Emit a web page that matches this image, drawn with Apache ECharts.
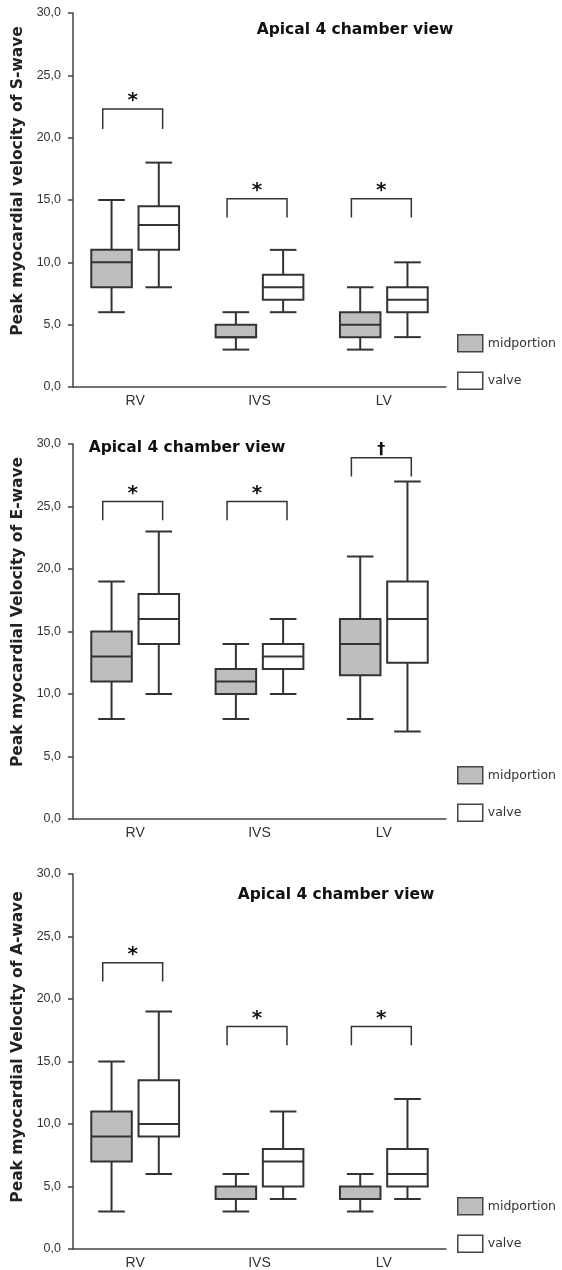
<!DOCTYPE html>
<html>
<head>
<meta charset="utf-8">
<script src="https://cdn.jsdelivr.net/npm/echarts@6/dist/echarts.min.js"></script>
<style>
  html, body { margin: 0; padding: 0; background: #fff; }
  #chart { width: 562px; height: 1270px; }
</style>
</head>
<body>
<div id="chart"></div>
<script>
// categories on the x axis
const categories = ['RV', 'IVS', 'LV'];
const seriesNames = ['midportion', 'valve'];
const panelTitle = 'Apical 4 chamber view';
const yNames = [
  'Peak myocardial velocity of S-wave',
  'Peak myocardial Velocity of E-wave',
  'Peak myocardial Velocity of A-wave'
];

// box values per category: [min, Q1, median, Q3, max]
const sMid   = [[6, 8, 10, 11, 15], [3, 4, 4, 5, 6], [3, 4, 5, 6, 8]];
const sValve = [[8, 11, 13, 14.5, 18], [6, 7, 8, 9, 11], [4, 6, 7, 8, 10]];
const eMid   = [[8, 11, 13, 15, 19], [8, 10, 11, 12, 14], [8, 11.5, 14, 16, 21]];
const eValve = [[10, 14, 16, 18, 23], [10, 12, 13, 14, 16], [7, 12.5, 16, 19, 27]];
const aMid   = [[3, 7, 9, 11, 15], [3, 4, 4, 5, 6], [3, 4, 4, 5, 6]];
const aValve = [[6, 9, 10, 13.5, 19], [4, 5, 7, 8, 11], [4, 5, 6, 8, 12]];

// significance brackets: [category, top, leg end, mark]
const sBrackets = [['RV', 22.3, 20.7, '*'], ['IVS', 15.1, 13.6, '*'], ['LV', 15.1, 13.6, '*']];
const eBrackets = [['RV', 25.4, 23.9, '*'], ['IVS', 25.4, 23.9, '*'], ['LV', 28.9, 27.4, '\u2020']];
const aBrackets = [['RV', 22.9, 21.4, '*'], ['IVS', 17.8, 16.3, '*'], ['LV', 17.8, 16.3, '*']];

const panels = [
  { mid: sMid, valve: sValve, brackets: sBrackets },
  { mid: eMid, valve: eValve, brackets: eBrackets },
  { mid: aMid, valve: aValve, brackets: aBrackets }
];

// layout
const gridTops = [13, 444, 874];
const gridHeights = [374, 375, 375];
const titlePos = [[355, 22], [187, 440], [336, 887]];
const legendTops = [334, 766, 1197];
const namePad = [38, 39, 29];

const LINE = '#333';
const MID_FILL = '#bebebe';
const VALVE_FILL = '#ffffff';

function boxItem(side) {
  return function (params, api) {
    const i = api.value(0);
    const band = api.size([1, 0])[0];
    const cx = api.coord([i, 0])[0] + side * band * 0.19;
    const y = [1, 2, 3, 4, 5].map(function (d) { return api.coord([i, api.value(d)])[1]; });
    const hw = band * 0.163;
    const cw = band * 0.107;
    const st = { stroke: LINE, lineWidth: 2 };
    const line = function (x1, y1, x2, y2) {
      return { type: 'line', shape: { x1: x1, y1: y1, x2: x2, y2: y2 }, style: st };
    };
    return {
      type: 'group',
      children: [
        line(cx, y[3], cx, y[4]),
        line(cx - cw, y[4], cx + cw, y[4]),
        line(cx, y[0], cx, y[1]),
        line(cx - cw, y[0], cx + cw, y[0]),
        {
          type: 'rect',
          shape: { x: cx - hw, y: y[3], width: hw * 2, height: y[1] - y[3] },
          style: { fill: api.visual('color'), stroke: LINE, lineWidth: 2 }
        },
        line(cx - hw, y[2], cx + hw, y[2])
      ]
    };
  };
}

function bracketItem(list) {
  return function (params, api) {
    const i = api.value(0);
    const band = api.size([1, 0])[0];
    const cx = api.coord([i, 0])[0] - band * 0.02;
    const hw = band * 0.241;
    const yt = api.coord([i, api.value(1)])[1];
    const yb = api.coord([i, api.value(2)])[1];
    const mark = list[params.dataIndex][3];
    return {
      type: 'group',
      children: [
        {
          type: 'polyline',
          shape: { points: [[cx - hw, yb], [cx - hw, yt], [cx + hw, yt], [cx + hw, yb]] },
          style: { fill: null, stroke: LINE, lineWidth: 1.5 }
        },
        {
          type: 'text',
          x: cx,
          y: yt - 8,
          style: {
            text: mark,
            fill: '#111',
            fontSize: mark === '*' ? 20 : 16,
            fontWeight: 'bold',
            fontFamily: 'DejaVu Sans',
            align: 'center',
            verticalAlign: 'middle'
          }
        }
      ]
    };
  };
}

const grid = [], xAxis = [], yAxis = [], series = [], title = [], legend = [];

panels.forEach(function (p, k) {
  grid.push({ left: 73, top: gridTops[k], width: 373, height: gridHeights[k] });
  xAxis.push({
    type: 'category',
    gridIndex: k,
    data: categories,
    axisLine: { lineStyle: { color: '#444', width: 1.5 } },
    axisTick: { alignWithLabel: true, length: 5, lineStyle: { color: '#444', width: 1.5 } },
    axisLabel: { color: '#333', fontSize: 14, fontFamily: 'Liberation Sans', margin: 7 }
  });
  yAxis.push({
    type: 'value',
    gridIndex: k,
    min: 0,
    max: 30,
    interval: 5,
    name: yNames[k],
    nameLocation: 'middle',
    nameRotate: 90,
    nameGap: 46,
    nameTextStyle: {
      color: '#222', fontSize: 15.5, fontWeight: 'bold', fontFamily: 'DejaVu Sans',
      padding: [0, 0, 0, namePad[k]]
    },
    axisLine: { show: true, lineStyle: { color: '#444', width: 1.5 } },
    axisTick: { show: true, length: 5, lineStyle: { color: '#444', width: 1.5 } },
    splitLine: { show: false },
    axisLabel: {
      color: '#333', fontSize: 12.5, fontFamily: 'Liberation Sans', margin: 12,
      formatter: function (v) { return v.toFixed(1).replace('.', ','); }
    }
  });
  title.push({
    text: panelTitle,
    left: titlePos[k][0],
    top: titlePos[k][1],
    textAlign: 'center',
    padding: 0,
    textStyle: { color: '#111', fontSize: 15.5, fontWeight: 'bold', fontFamily: 'DejaVu Sans' }
  });
  legend.push({
    left: 457,
    top: legendTops[k],
    orient: 'vertical',
    padding: 0,
    itemWidth: 25,
    itemHeight: 17,
    itemGap: 19,
    icon: 'rect',
    selectedMode: false,
    textStyle: { color: '#333', fontSize: 12.5, fontFamily: 'DejaVu Sans' },
    data: [
      { name: seriesNames[0], itemStyle: { color: MID_FILL, borderColor: '#444', borderWidth: 1.5 } },
      { name: seriesNames[1], itemStyle: { color: VALVE_FILL, borderColor: '#444', borderWidth: 1.5 } }
    ]
  });
  [[p.mid, -1, MID_FILL], [p.valve, 1, VALVE_FILL]].forEach(function (s, j) {
    series.push({
      type: 'custom',
      name: seriesNames[j],
      xAxisIndex: k,
      yAxisIndex: k,
      itemStyle: { color: s[2] },
      encode: { x: 0, y: [1, 2, 3, 4, 5] },
      data: s[0].map(function (row, i) { return [i].concat(row); }),
      renderItem: boxItem(s[1])
    });
  });
  series.push({
    type: 'custom',
    name: 'brackets' + k,
    xAxisIndex: k,
    yAxisIndex: k,
    encode: { x: 0, y: [1, 2] },
    data: p.brackets.map(function (b) { return [categories.indexOf(b[0]), b[1], b[2]]; }),
    renderItem: bracketItem(p.brackets)
  });
});

const chart = echarts.init(document.getElementById('chart'));
chart.setOption({
  animation: false,
  backgroundColor: '#fff',
  title: title,
  legend: legend,
  grid: grid,
  xAxis: xAxis,
  yAxis: yAxis,
  series: series
});
</script>
</body>
</html>
